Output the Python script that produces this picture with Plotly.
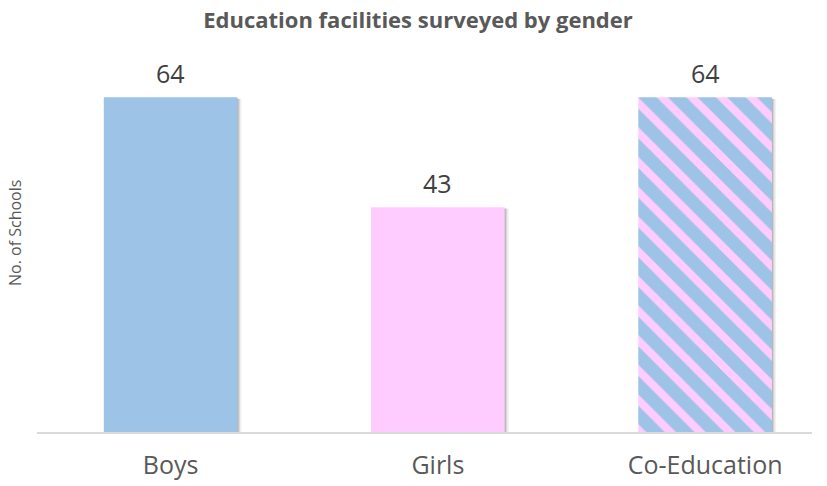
import plotly.graph_objects as go

categories = ["Boys", "Girls", "Co-Education"]
values = [64, 43, 64]
colors = ["#9DC3E6", "#FFCCFF", "#9DC3E6"]
stripe_color = "#FFCCFF"
patterned = [False, False, True]

FONT = "Open Sans, sans-serif"
BAR_W = 0.5
PX = 775 / 2.9  # pixels per category unit

fig = go.Figure()
# soft shadow layers
for dx, alpha in [(4, 0.06), (2.5, 0.10), (1.2, 0.14)]:
    fig.add_trace(go.Bar(
        x=categories, y=values, width=BAR_W, offset=-BAR_W / 2 + dx / PX,
        base=[-0.25] * len(values),
        marker=dict(color=f"rgba(0,0,0,{alpha})", line=dict(width=0)),
        hoverinfo="skip",
    ))

for c, v, col, pat in zip(categories, values, colors, patterned):
    marker = dict(color=col, line=dict(width=0))
    if pat:
        marker["pattern"] = dict(shape="\\", fgcolor=stripe_color, bgcolor=col,
                                 size=21, solidity=0.38, fillmode="overlay",
                                 fgopacity=1)
    fig.add_trace(go.Bar(
        x=[c], y=[v], width=BAR_W, offset=-BAR_W / 2,
        marker=marker, hoverinfo="skip",
    ))

annotations = [dict(x=c, y=v, text=str(v), xref="x", yref="y", showarrow=False,
                    yanchor="bottom", yshift=5,
                    font=dict(size=25, color="#404040", family=FONT))
               for c, v in zip(categories, values)]
annotations.append(dict(text="No. of Schools", textangle=-90, xref="paper", yref="paper",
                        x=(15 - 37) / 775, y=(432 - 233) / 366, xanchor="center",
                        yanchor="middle", showarrow=False,
                        font=dict(size=16, color="#595959", family=FONT)))

fig.update_layout(
    width=827, height=486,
    margin=dict(l=37, r=15, t=66, b=54),
    paper_bgcolor="white", plot_bgcolor="white",
    showlegend=False, barmode="overlay",
    title=dict(text="<b>Education facilities surveyed by gender</b>",
               x=(418 - 37) / 775, xanchor="center", y=1 - 20 / 486, yanchor="middle",
               xref="paper",
               font=dict(size=22, color="#595959", family=FONT)),
    xaxis=dict(range=[-0.5, 2.4], showgrid=False, showline=True, linecolor="#D9D9D9",
               linewidth=2, ticks="", ticklen=0, automargin=False, ticklabelstandoff=10,
               tickfont=dict(size=25, color="#595959", family=FONT)),
    yaxis=dict(range=[0, 70], showgrid=False, showticklabels=False, showline=False,
               zeroline=False, ticks="", automargin=False),
    annotations=annotations,
)

fig.write_html("out.html", config={"displayModeBar": False},
               post_script="document.body.style.margin='0';")
